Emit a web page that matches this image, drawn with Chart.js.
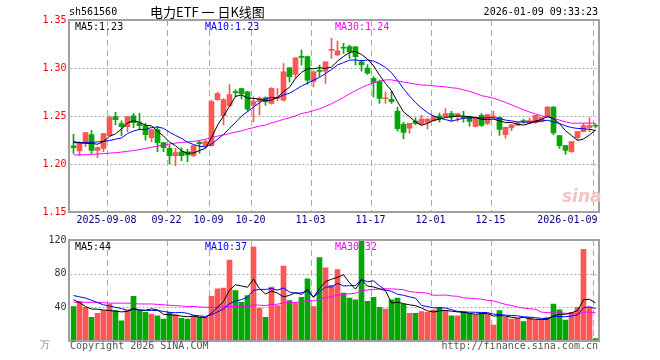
<!DOCTYPE html>
<html>
<head>
<meta charset="utf-8">
<script src="https://cdn.jsdelivr.net/npm/chart.js@4/dist/chart.umd.min.js"></script>
<style>
  body { margin: 0; background: #fff; }
  #wrap { position: relative; width: 660px; height: 360px; background: #fff; overflow: hidden; }
  #wrap canvas { position: absolute; left: 0; }
  .t { position: absolute; font: 10px 'DejaVu Sans Mono', monospace; line-height: 12px; white-space: pre; }
</style>
</head>
<body>
<div id="wrap">
  <canvas id="kline" width="660" height="230" style="top:0"></canvas>
  <canvas id="vol" width="660" height="130" style="top:230px"></canvas>

  <div class="t" style="left:69px;top:6px;color:#000">sh561560</div>
  <div class="t" style="left:150px;top:3px;font:13px 'Noto Sans CJK SC',sans-serif;line-height:17px">电力ETF 一 日K线图</div>
  <div class="t" style="right:62px;top:6px;color:#000">2026-01-09 09:33:23</div>

  <div class="t" style="left:75px;top:21px;color:#000">MA5:1.23</div>
  <div class="t" style="left:205px;top:21px;color:#0000ff">MA10:1.23</div>
  <div class="t" style="left:335px;top:21px;color:#ff00ff">MA30:1.24</div>

  <div class="t" style="left:75px;top:241px;color:#000">MA5:44</div>
  <div class="t" style="left:205px;top:241px;color:#0000ff">MA10:37</div>
  <div class="t" style="left:335px;top:241px;color:#ff00ff">MA30:32</div>

  <div class="t" style="left:40px;top:339px;color:#888">万</div>
  <div class="t" style="left:70px;top:340px;color:#555">Copyright 2026 SINA.COM</div>
  <div class="t" style="right:62px;top:340px;color:#555">http://finance.sina.com.cn</div>
  <div class="t" style="left:562px;top:186px;font:italic bold 17px 'DejaVu Sans',sans-serif;color:#f2c4c4">sina</div>
</div>

<script>
// trading days shown
const dates = [
  '2025-08-29',
  '2025-09-01','2025-09-02','2025-09-03','2025-09-04','2025-09-05',
  '2025-09-08','2025-09-09','2025-09-10','2025-09-11','2025-09-12',
  '2025-09-15','2025-09-16','2025-09-17','2025-09-18','2025-09-19',
  '2025-09-22','2025-09-23','2025-09-24','2025-09-25','2025-09-26',
  '2025-09-29','2025-09-30','2025-10-09','2025-10-10',
  '2025-10-13','2025-10-14','2025-10-15','2025-10-16','2025-10-17',
  '2025-10-20','2025-10-21','2025-10-22','2025-10-23','2025-10-24',
  '2025-10-27','2025-10-28','2025-10-29','2025-10-30','2025-10-31',
  '2025-11-03','2025-11-04','2025-11-05','2025-11-06','2025-11-07',
  '2025-11-10','2025-11-11','2025-11-12','2025-11-13','2025-11-14',
  '2025-11-17','2025-11-18','2025-11-19','2025-11-20','2025-11-21',
  '2025-11-24','2025-11-25','2025-11-26','2025-11-27','2025-11-28',
  '2025-12-01','2025-12-02','2025-12-03','2025-12-04','2025-12-05',
  '2025-12-08','2025-12-09','2025-12-10','2025-12-11','2025-12-12',
  '2025-12-15','2025-12-16','2025-12-17','2025-12-18','2025-12-19',
  '2025-12-22','2025-12-23','2025-12-24','2025-12-25','2025-12-26',
  '2025-12-29','2025-12-30','2025-12-31',
  '2026-01-05','2026-01-06','2026-01-07','2026-01-08','2026-01-09'
];

const opens = [
  1.2190,1.2135,1.2222,1.2306,1.2142,1.2163,1.2295,1.2493,1.2420,1.2389,
  1.2503,1.2430,1.2400,1.2274,1.2358,1.2222,1.2163,1.2087,1.2128,1.2128,
  1.2087,1.2226,1.2191,1.2191,1.2670,1.2503,1.2608,1.2747,1.2785,1.2753,
  1.2614,1.2649,1.2690,1.2632,1.2683,1.2665,1.3002,1.2933,1.3118,1.3118,
  1.2857,1.2971,1.2968,1.3184,1.3135,1.3213,1.3222,1.3220,1.3065,1.3000,
  1.2893,1.2858,1.2680,1.2674,1.2552,1.2413,1.2372,1.2448,1.2413,1.2434,
  1.2451,1.2503,1.2493,1.2524,1.2493,1.2493,1.2493,1.2392,1.2507,1.2423,
  1.2490,1.2486,1.2305,1.2375,1.2402,1.2446,1.2423,1.2430,1.2444,1.2490,
  1.2594,1.2295,1.2191,1.2128,1.2274,1.2337,1.2379,1.2398
];
const highs = [
  1.2310,1.2233,1.2330,1.2347,1.2180,1.2320,1.2503,1.2538,1.2450,1.2495,
  1.2528,1.2528,1.2424,1.2365,1.2389,1.2225,1.2198,1.2163,1.2170,1.2153,
  1.2198,1.2243,1.2250,1.2667,1.2747,1.2681,1.2826,1.2774,1.2788,1.2758,
  1.2700,1.2700,1.2700,1.2795,1.2788,1.3047,1.3005,1.3107,1.3186,1.3125,
  1.2970,1.3031,1.3065,1.3309,1.3280,1.3256,1.3239,1.3225,1.3082,1.3036,
  1.2910,1.2875,1.2750,1.2757,1.2594,1.2434,1.2424,1.2480,1.2510,1.2472,
  1.2507,1.2531,1.2576,1.2548,1.2524,1.2548,1.2500,1.2490,1.2524,1.2514,
  1.2548,1.2488,1.2385,1.2412,1.2437,1.2465,1.2479,1.2507,1.2486,1.2597,
  1.2597,1.2298,1.2195,1.2233,1.2337,1.2424,1.2483,1.2417
];
const lows = [
  1.2110,1.2087,1.2180,1.2110,1.2066,1.2128,1.2290,1.2406,1.2295,1.2337,
  1.2378,1.2354,1.2247,1.2233,1.2128,1.2128,1.2000,1.1983,1.2035,1.2024,
  1.2076,1.2111,1.2170,1.2185,1.2665,1.2406,1.2597,1.2698,1.2677,1.2550,
  1.2440,1.2510,1.2614,1.2622,1.2660,1.2655,1.2856,1.2891,1.3030,1.2830,
  1.2804,1.2909,1.2840,1.3100,1.3128,1.3152,1.3100,1.3030,1.2968,1.2934,
  1.2700,1.2630,1.2630,1.2630,1.2344,1.2260,1.2320,1.2410,1.2405,1.2365,
  1.2444,1.2437,1.2486,1.2444,1.2444,1.2437,1.2395,1.2385,1.2392,1.2409,
  1.2472,1.2298,1.2270,1.2347,1.2400,1.2423,1.2420,1.2423,1.2437,1.2488,
  1.2305,1.2163,1.2100,1.2120,1.2253,1.2335,1.2337,1.2375
];
const closes = [
  1.2170,1.2222,1.2326,1.2142,1.2170,1.2316,1.2483,1.2462,1.2389,1.2493,
  1.2430,1.2400,1.2306,1.2358,1.2222,1.2170,1.2087,1.2118,1.2087,1.2094,
  1.2191,1.2212,1.2233,1.2650,1.2733,1.2670,1.2722,1.2743,1.2733,1.2570,
  1.2649,1.2683,1.2650,1.2788,1.2690,1.2960,1.2909,1.3107,1.3111,1.2874,
  1.2960,1.2965,1.3065,1.3187,1.3180,1.3206,1.3170,1.3118,1.3031,1.2945,
  1.2851,1.2684,1.2686,1.2650,1.2368,1.2330,1.2424,1.2424,1.2469,1.2469,
  1.2493,1.2472,1.2524,1.2493,1.2524,1.2479,1.2444,1.2479,1.2402,1.2514,
  1.2496,1.2361,1.2382,1.2409,1.2430,1.2442,1.2451,1.2507,1.2486,1.2594,
  1.2323,1.2191,1.2142,1.2233,1.2337,1.2400,1.2400,1.2393
];
// volume, in 万
const volumes = [
  41,47,40,28,33,36,44,36,24,36,
  53,36,34,32,30,26,34,31,27,26,
  30,28,28,53,62,63,96,60,46,54,
  112,39,28,64,42,89,48,45,52,74,
  41,99,87,66,85,57,51,49,122,47,
  52,40,38,49,51,44,33,33,35,34,
  37,40,36,30,30,35,33,31,33,32,
  19,36,28,26,27,23,28,25,25,28,
  44,37,25,34,40,109,40,3
];

// first MA points (their windows start before the first day shown)
const priceMa5Lead = [1.2233, 1.2222, 1.2215, 1.2215];
const priceMa10Lead = [1.2222, 1.2222, 1.2224, 1.2226, 1.2230, 1.2236, 1.2245, 1.2258, 1.2272];
const priceMa30Lead = [
  1.2095, 1.2095, 1.2097, 1.2100, 1.2104, 1.2108, 1.2113, 1.2118, 1.2124, 1.2132,
  1.2140, 1.2150, 1.2162, 1.2175, 1.2186, 1.2196, 1.2208, 1.2218, 1.2224, 1.2230,
  1.2236, 1.2245, 1.2258, 1.2275, 1.2290, 1.2303, 1.2318, 1.2332, 1.2345
];
const volMa5Lead = [49, 45.5, 41, 38];
const volMa10Lead = [54, 52.5, 51, 48.5, 45.6, 43, 41.6, 40, 38.5];
const volMa30Lead = [
  46, 46, 46, 46, 46, 45.5, 45, 45, 45, 45,
  44.5, 44, 44, 44, 43.5, 43, 42.5, 42, 41.5, 41,
  41, 40.5, 40, 40, 40, 40.5, 41, 41, 41.5
];

// axis text
const tickIdx = [6, 16, 23, 30, 40, 50, 60, 70, 87];
const tickText = ['2025-09-08', '09-22', '10-09', '10-20', '11-03', '11-17', '12-01', '12-15', '2026-01-09'];
const priceTicks = [1.15, 1.20, 1.25, 1.30, 1.35];
const volTicks = [0, 40, 80, 120];

const UP = '#ff5555';
const DOWN = '#00a800';
const MONO = "'DejaVu Sans Mono', monospace";

function movingAvg(src, n, lead) {
  return src.map((_, i) => {
    if (i < lead.length) return lead[i];
    const win = src.slice(i - n + 1, i + 1);
    return win.reduce((s, v) => s + v, 0) / n;
  });
}

const candleColors = closes.map((c, i) => (c >= opens[i] ? UP : DOWN));

// dotted horizontals, dashed date lines, grey frame
const klineGrid = {
  id: 'klineGrid',
  beforeDatasetsDraw(chart, args, opts) {
    const { ctx, chartArea: a, scales: { x, y } } = chart;
    const slot = x.getPixelForValue(1) - x.getPixelForValue(0);
    ctx.save();
    ctx.strokeStyle = '#aaaaaa';
    ctx.lineWidth = 1;
    ctx.setLineDash([2, 2]);
    opts.hLines.forEach(v => {
      const py = Math.round(y.getPixelForValue(v)) + 0.5;
      ctx.beginPath(); ctx.moveTo(a.left, py); ctx.lineTo(a.right, py); ctx.stroke();
    });
    ctx.setLineDash([6, 4]);
    tickIdx.forEach(i => {
      const px = Math.round(x.getPixelForValue(i) - slot / 2) + 0.5;
      ctx.beginPath(); ctx.moveTo(px, a.top); ctx.lineTo(px, a.bottom); ctx.stroke();
    });
    ctx.restore();
  },
  afterDraw(chart, args, opts) {
    const { ctx, chartArea: a, scales: { x } } = chart;
    const slot = x.getPixelForValue(1) - x.getPixelForValue(0);
    ctx.save();
    ctx.strokeStyle = '#a0a0a0';
    ctx.lineWidth = 2;
    ctx.setLineDash([]);
    ctx.strokeRect(a.left - 1.5, a.top, a.right - a.left + 2, a.bottom - a.top);
    if (opts.dates) {
      ctx.font = '10px ' + MONO;
      ctx.fillStyle = '#000080';
      ctx.textBaseline = 'middle';
      tickIdx.forEach((i, k) => {
        const px = x.getPixelForValue(i) - slot / 2;
        const w = ctx.measureText(tickText[k]).width;
        let left = px - w / 2;
        if (left + w > a.right - 1) left = a.right - 1 - w;
        if (left < a.left + 2) left = a.left + 2;
        ctx.fillText(tickText[k], left, a.bottom + 8);
      });
    }
    ctx.restore();
  }
};

const maLine = (label, data, color) => ({
  type: 'line', label, data, borderColor: color, borderWidth: 1,
  pointRadius: 0, tension: 0, fill: false, order: 0
});

new Chart(document.getElementById('kline'), {
  type: 'bar',
  data: {
    labels: dates,
    datasets: [
      maLine('MA5', movingAvg(closes, 5, priceMa5Lead), '#000000'),
      maLine('MA10', movingAvg(closes, 10, priceMa10Lead), '#0000ff'),
      maLine('MA30', movingAvg(closes, 30, priceMa30Lead), '#ff00ff'),
      {
        label: 'body',
        data: opens.map((o, i) => [Math.min(o, closes[i]), Math.max(o, closes[i])]),
        backgroundColor: candleColors,
        barThickness: 5, minBarLength: 1, grouped: false, order: 1
      },
      {
        label: 'wick',
        data: lows.map((l, i) => [l, highs[i]]),
        backgroundColor: candleColors,
        barThickness: 1, grouped: false, order: 2
      }
    ]
  },
  options: {
    responsive: false,
    animation: false,
    layout: { padding: { left: 0, right: 61.5, top: 20, bottom: 18 } },
    plugins: {
      legend: { display: false },
      tooltip: { enabled: false },
      klineGrid: { hLines: [1.20, 1.25, 1.30], dates: true }
    },
    scales: {
      x: { display: false, offset: true },
      y: {
        min: 1.15, max: 1.35,
        afterFit(scale) { scale.width = 70.5; },
        afterBuildTicks(scale) { scale.ticks = priceTicks.map(v => ({ value: v })); },
        grid: { display: false, drawTicks: false },
        border: { display: false },
        ticks: {
          padding: 4,
          font: { family: MONO, size: 10 },
          color: '#ff0000',
          callback: v => v.toFixed(2)
        }
      }
    }
  },
  plugins: [klineGrid]
});

new Chart(document.getElementById('vol'), {
  type: 'bar',
  data: {
    labels: dates,
    datasets: [
      maLine('MA5', movingAvg(volumes, 5, volMa5Lead), '#000000'),
      maLine('MA10', movingAvg(volumes, 10, volMa10Lead), '#0000ff'),
      maLine('MA30', movingAvg(volumes, 30, volMa30Lead), '#ff00ff'),
      {
        label: 'volume',
        data: volumes,
        backgroundColor: candleColors,
        barThickness: 5, grouped: false, order: 1
      }
    ]
  },
  options: {
    responsive: false,
    animation: false,
    layout: { padding: { left: 0, right: 61.5, top: 10, bottom: 19 } },
    plugins: {
      legend: { display: false },
      tooltip: { enabled: false },
      klineGrid: { hLines: [40, 80], dates: false }
    },
    scales: {
      x: { display: false, offset: true },
      y: {
        min: 0, max: 120,
        afterFit(scale) { scale.width = 70.5; },
        afterBuildTicks(scale) { scale.ticks = volTicks.map(v => ({ value: v })); },
        grid: { display: false, drawTicks: false },
        border: { display: false },
        ticks: {
          padding: 4,
          font: { family: MONO, size: 10 },
          color: '#333333',
          callback: v => (v === 0 ? '' : String(v))
        }
      }
    }
  },
  plugins: [klineGrid]
});
</script>
</body>
</html>
